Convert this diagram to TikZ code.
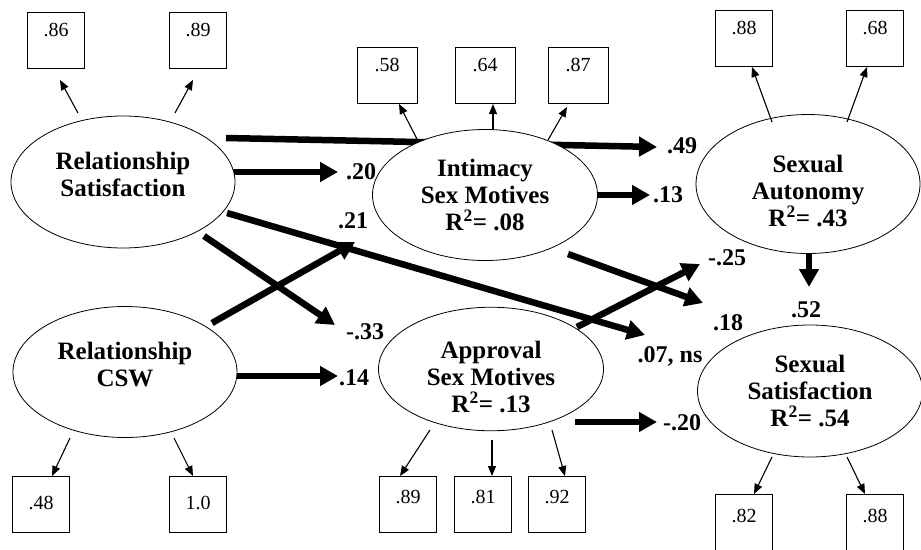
\documentclass[tikz,border=0pt]{standalone}
\usepackage{fontspec}
\setmainfont{Liberation Serif}
\usetikzlibrary{shapes,positioning,arrows.meta,backgrounds}

\begin{document}
\begin{tikzpicture}[x=1pt,y=-1pt]

        % Styles for latent factors, indicators and paths
        \tikzset{
            latent/.style={draw, line width=0.8pt, ellipse, fill=white, inner sep=0pt,
                minimum width=224pt, minimum height=132pt, align=center,
                font=\fontsize{25}{27}\selectfont\bfseries},
            indbox/.style={draw, line width=0.9pt, minimum width=57pt,
                minimum height=56pt, inner sep=0pt, text depth=14pt,
                font=\fontsize{20}{24}\selectfont},
            coef/.style={inner sep=1pt, font=\fontsize{24}{26}\selectfont\bfseries},
            effect/.style={line width=6.5pt, -{Triangle[length=18pt,width=19pt]}},
            load/.style={line width=1.1pt, -{Triangle[length=10pt,width=8pt]}}
        }

        \useasboundingbox (0,0) rectangle (921,549);

        % Latent factors
        \node[latent] (RS) at (123,182) {Relationship\\Satisfaction\\[-11pt]\mbox{}};
        \node[latent, minimum height=131pt] (CSW) at (125,372)
        {Relationship\\CSW\\[-11pt]\mbox{}};
        \node[latent, minimum width=225pt, minimum height=131pt] (IM) at (485,195)
        {Intimacy\\Sex Motives\\R\textsuperscript{2}= .08};
        \node[latent, minimum width=225pt, minimum height=122pt] (AM) at (491,369)
        {\mbox{}\\[6pt]Approval\\Sex Motives\\R\textsuperscript{2}= .13};
        \node[latent, minimum height=139pt] (SA) at (808,184)
        {\mbox{}\\[4pt]Sexual\\Autonomy\\R\textsuperscript{2}= .43};
        \node[latent, minimum width=225pt] (SS) at (810,391)
        {Sexual\\Satisfaction\\R\textsuperscript{2}= .54};

        % Indicators
        \node[indbox, text depth=20pt] (b86) at (56,40) {.86};
        \node[indbox, text depth=20pt] (b89) at (198,40) {.89};
        \node[indbox, text depth=20pt, minimum width=60pt] (b58) at (387,75) {.58};
        \node[indbox, text depth=20pt, minimum width=60pt] (b64) at (485,75) {.64};
        \node[indbox, text depth=20pt, minimum width=60pt] (b87) at (578,75) {.87};
        \node[indbox, text depth=20pt] (b88a) at (744,38) {.88};
        \node[indbox, text depth=20pt] (b68) at (875,38) {.68};
        \node[indbox, text depth=2pt] (b48) at (41,504) {.48};
        \node[indbox, text depth=2pt] (b10) at (198,504) {1.0};
        \node[indbox] (b89b) at (408,504) {.89};
        \node[indbox] (b81) at (483,504) {.81};
        \node[indbox] (b92) at (557,504) {.92};
        \node[indbox, text depth=12pt] (b82) at (744,522) {.82};
        \node[indbox, text depth=12pt] (b88b) at (875,522) {.88};

        % Coefficients
        \node[coef] (c49) at (682,146) {.49};
        \node[coef] (c20) at (361,172) {.20};
        \node[coef] (c07) at (670,356) {.07, ns};
        \node[coef] (c33) at (365,332) {-.33};
        \node[coef] (c21) at (353,221) {.21};
        \node[coef] (c14) at (354,378) {.14};
        \node[coef] (c13) at (668,195) {.13};
        \node[coef] (c18) at (728,323) {.18};
        \node[coef] (c25) at (727,258) {-.25};
        \node[coef] (c20b) at (682,423) {-.20};
        \node[coef] (c52) at (806,310) {.52};

        % Where the structural paths start and end
        \coordinate (s49) at (226,138);  \coordinate (e49) at (657,147);
        \coordinate (s20) at (231,172);  \coordinate (e20) at (338,172);
        \coordinate (s07) at (227,213);  \coordinate (e07) at (645,335);
        \coordinate (s33) at (204,236);  \coordinate (e33) at (335,325);
        \coordinate (s21) at (212,323);  \coordinate (e21) at (355,242);
        \coordinate (s14) at (236,376);  \coordinate (e14) at (338,376);
        \coordinate (s13) at (596,195);  \coordinate (e13) at (650,195);
        \coordinate (s18) at (568,254);  \coordinate (e18) at (703,303);
        \coordinate (s25) at (577,327);  \coordinate (e25) at (700,264);
        \coordinate (s20b) at (575,422); \coordinate (e20b) at (657,422);
        \coordinate (s52) at (809,253);  \coordinate (e52) at (809,287);

        % Where the loadings start and end
        \coordinate (o86) at (78,113);   \coordinate (t86) at (60,80);
        \coordinate (o89) at (175,113);  \coordinate (t89) at (193,80);
        \coordinate (o58) at (417,139);  \coordinate (t58) at (399,104);
        \coordinate (o64) at (493,130);  \coordinate (t64) at (493,104);
        \coordinate (o87) at (548,140);  \coordinate (t87) at (567,107);
        \coordinate (o88a) at (772,122); \coordinate (t88a) at (752,67);
        \coordinate (o68) at (847,122);  \coordinate (t68) at (867,67);
        \coordinate (o48) at (70,438);   \coordinate (t48) at (52,476);
        \coordinate (o10) at (174,438);  \coordinate (t10) at (193,476);
        \coordinate (o89b) at (430,430); \coordinate (t89b) at (400,476);
        \coordinate (o81) at (492,440);  \coordinate (t81) at (492,476);
        \coordinate (o92) at (552,430);  \coordinate (t92) at (565,476);
        \coordinate (o82) at (772,457);  \coordinate (t82) at (754,494);
        \coordinate (o88b) at (847,457); \coordinate (t88b) at (865,494);

        \begin{scope}[on background layer]
            \foreach \p in {49,20,07,33,21,14,13,18,25,20b,52}
                \draw[effect] (s\p) -- (e\p);
        \end{scope}

        \begin{scope}
            \foreach \b in {86,89,58,64,87,88a,68,48,10,89b,81,92,82,88b}
                \draw[load] (o\b) -- (t\b);
        \end{scope}

\end{tikzpicture}
\end{document}
